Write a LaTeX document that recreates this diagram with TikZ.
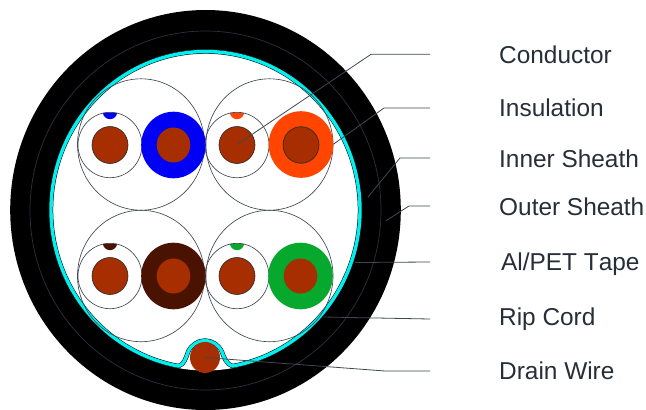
\documentclass[tikz,border=0pt]{standalone}
\usepackage{fontspec}
\setmainfont[Kerning=Off]{Liberation Sans}
\definecolor{wirecu}{HTML}{A62E00}
\definecolor{linegray}{HTML}{404852}
\definecolor{sheathline}{HTML}{2A323C}
\definecolor{tapecyan}{HTML}{00F0F0}
\definecolor{cblue}{HTML}{0000F5}
\definecolor{corange}{HTML}{FF4500}
\definecolor{cbrown}{HTML}{4A1200}
\definecolor{cgreen}{HTML}{06A92E}
\definecolor{labeltext}{HTML}{262E38}
\tikzset{
  thinline/.style={draw=linegray,line width=0.65pt},
  lead/.style={draw=linegray,line width=0.8pt},
  lbl/.style={anchor=base west,inner sep=0pt,font=\fontsize{24.4}{28}\selectfont,text=labeltext},
  pairring/.style={thinline,fill=none},
  cond/.style={fill=wirecu,draw=linegray!60!black,line width=0.6pt},
}
\newcommand{\tapepath}{
  plot[smooth,domain=80:-260,samples=170] ({205.5+154.5*cos(\x)},{210+158.5*sin(\x)})
  .. controls (184,364.5) and (186,358) .. (188,352)
  .. controls (191,345) and (198,340.5) .. (205,340.5)
  .. controls (212,340.5) and (219,345) .. (222,352)
  .. controls (224,358) and (227,364.5) .. (232.3,366) -- cycle
}
\newcommand{\insulated}[3]{% cx, cy, colour
  \fill[#3] (#1,#2) ellipse [x radius=32.3,y radius=33.3];
  \fill[wirecu] (#1,#2) ellipse [x radius=16.8,y radius=17.5];
}
\newcommand{\bare}[3]{% cx, cy, mark colour
  \begin{scope}
    \clip (#1,#2) ellipse [x radius=32,y radius=32.7];
    \fill[#3] (#1,#2-33) ellipse [x radius=7.2,y radius=7.2];
  \end{scope}
  \draw[thinline] (#1,#2) ellipse [x radius=32,y radius=32.7];
  \draw[cond] (#1,#2) ellipse [x radius=18,y radius=18.5];
}
\begin{document}
\begin{tikzpicture}[x=1pt,y=-1pt]
\useasboundingbox (0,0) rectangle (646,410);
\fill[white] (0,0) rectangle (646,410);
% cable body
\fill[black] (205.5,210) ellipse [x radius=195.3,y radius=200];
\draw[sheathline,line width=0.7pt] (205.5,210.5) ellipse [x radius=175.5,y radius=179.5];
\fill[white] (205.5,210) ellipse [x radius=155.5,y radius=160.5];
\draw[black,line width=4.4pt,line join=round] \tapepath;
\draw[tapecyan,line width=3.4pt,line join=round] \tapepath;
% twisted pairs
\foreach \cx/\cy in {141/144.5,269.5/144.5,141/276,269.5/276}
  \draw[pairring] (\cx,\cy) ellipse [x radius=63.5,y radius=65.7];
\bare{110}{145}{cblue}
\insulated{173.5}{145}{cblue}
\bare{237}{145}{corange}
\insulated{301}{144.5}{corange}
\draw[cond] (301,145) ellipse [x radius=18,y radius=18.3];
\bare{110}{276}{cbrown}
\insulated{173.5}{276}{cbrown}
\bare{237}{276}{cgreen}
\insulated{300.5}{276}{cgreen}
% drain wire
\fill[wirecu] (205,357.5) ellipse [x radius=15,y radius=15.5];
% labels
\node[lbl] (l1) at (499,63) {Conductor};
\node[lbl] (l2) at (499,116) {Insulation};
\node[lbl] (l3) at (499,167) {Inner Sheath};
\node[lbl] (l4) at (499,215) {Outer Sheath};
\node[lbl] (l5) at (501,270) {Al/PET Tape};
\node[lbl] (l6) at (499,325) {Rip Cord};
\node[lbl] (l7) at (499,379) {Drain Wire};
% leader ends
\coordinate (e1) at (430,54.3);
\coordinate (e2) at (430,108);
\coordinate (e3) at (430,158);
\coordinate (e4) at (430,206);
\coordinate (e5) at (430,262);
\coordinate (e6) at (430,319);
\coordinate (e7) at (430,371);
\coordinate (s1) at (237,144.5);
\coordinate (s2) at (333.3,144.3);
\coordinate (s3) at (368,197);
\coordinate (s4) at (386,220.7);
\coordinate (s5) at (355,262.5);
\coordinate (s6) at (323,317);
\coordinate (s7) at (205,357.5);
\draw[lead] (s1) -- (371,54.3) -- (e1);
\draw[lead] (s2) -- (384,108) -- (e2);
\draw[lead] (s3) -- (400,158) -- (e3);
\draw[lead] (s4) -- (409,206) -- (e4);
\draw[lead] (s5) -- (e5);
\draw[lead] (s6) -- (e6);
\draw[lead] (s7) -- (385,371) -- (e7);
\end{tikzpicture}
\end{document}
